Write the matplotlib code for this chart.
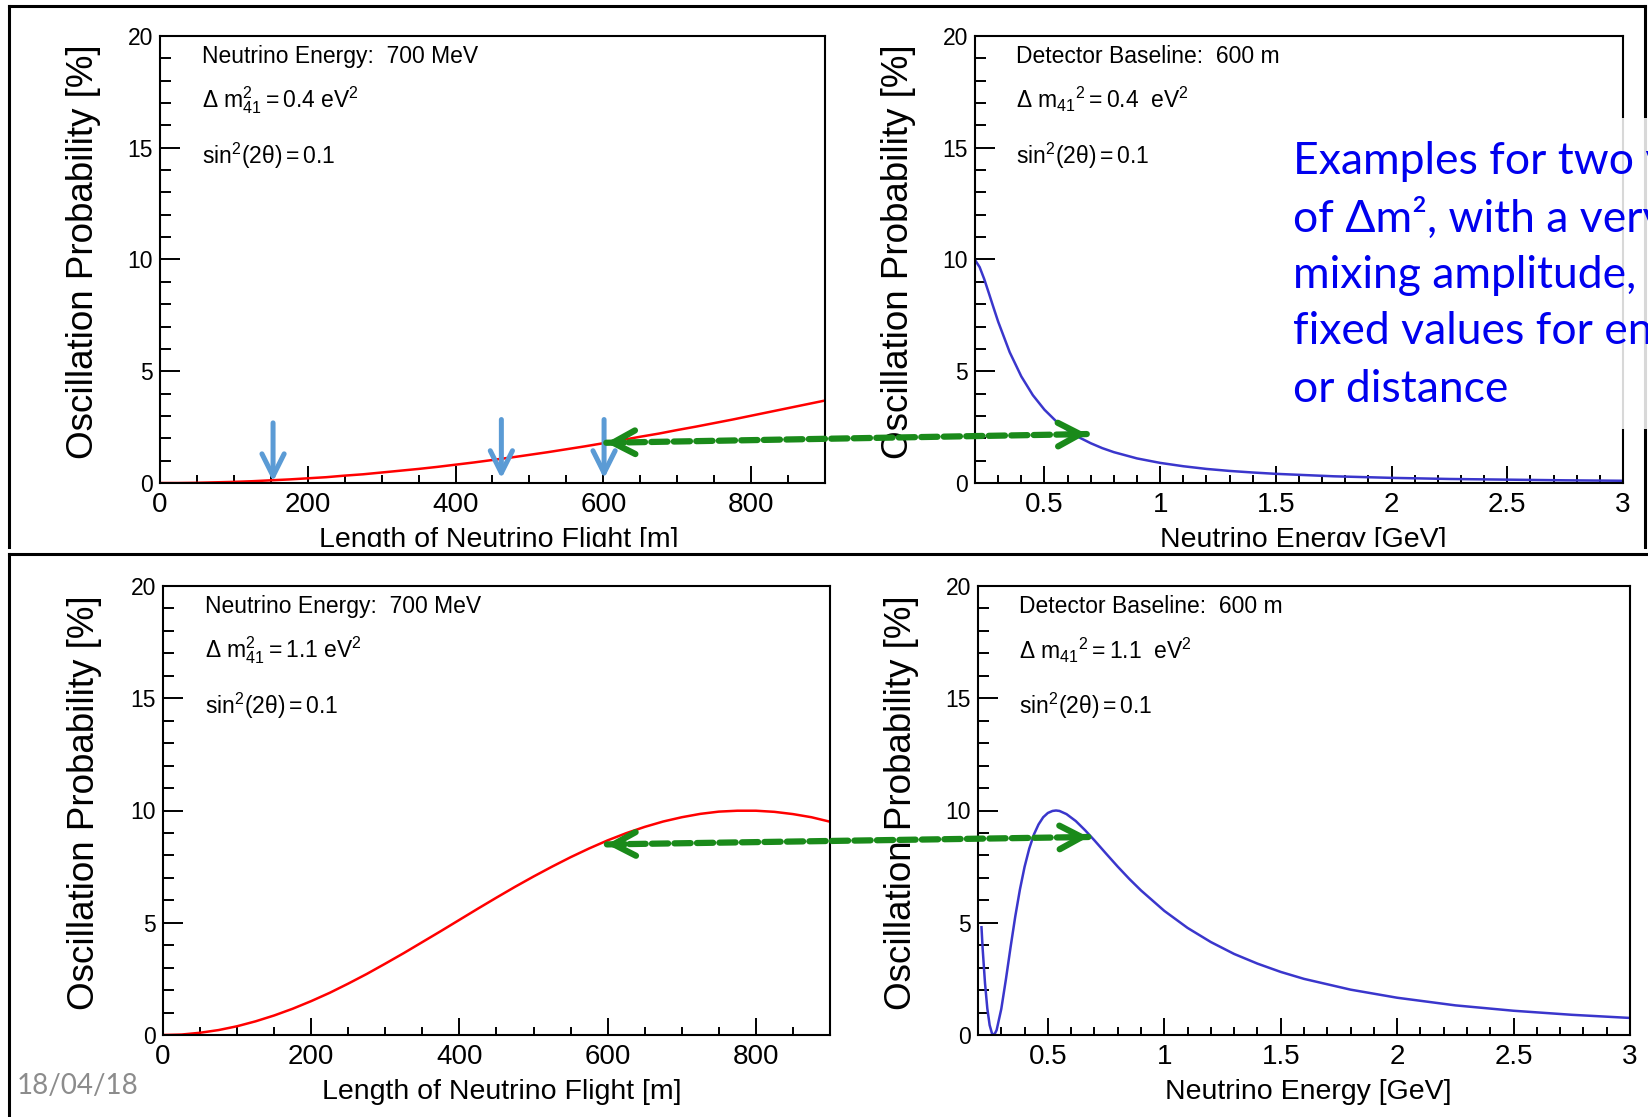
import matplotlib
matplotlib.use("Agg")
import matplotlib.pyplot as plt
from matplotlib.patches import ConnectionPatch, Rectangle
from matplotlib.lines import Line2D
from matplotlib.transforms import offset_copy
from matplotlib.ticker import MultipleLocator, FuncFormatter

# ---------------- data ----------------
flight_length_m = [0, 25, 50, 75, 100, 125, 150, 175, 200, 225, 250, 275, 300,
                   325, 350, 375, 400, 425, 450, 475, 500, 525, 550, 575, 600,
                   625, 650, 675, 700, 725, 750, 775, 800, 825, 850, 875, 900]
prob_vs_L_dm04 = [0.00, 0.00, 0.01, 0.03, 0.05, 0.08, 0.12, 0.16, 0.21, 0.26,
                  0.33, 0.39, 0.47, 0.55, 0.63, 0.72, 0.82, 0.92, 1.03, 1.14,
                  1.26, 1.38, 1.51, 1.64, 1.78, 1.92, 2.07, 2.21, 2.37, 2.52,
                  2.68, 2.84, 3.01, 3.18, 3.35, 3.52, 3.69]
prob_vs_L_dm11 = [0.00, 0.02, 0.10, 0.22, 0.39, 0.61, 0.87, 1.17, 1.51, 1.88,
                  2.29, 2.72, 3.18, 3.65, 4.14, 4.63, 5.13, 5.63, 6.12, 6.60,
                  7.06, 7.50, 7.92, 8.31, 8.67, 8.99, 9.27, 9.51, 9.70, 9.85,
                  9.95, 9.99, 9.99, 9.94, 9.84, 9.70, 9.50]

energy_top_GeV = [0.20, 0.22, 0.24, 0.26, 0.28, 0.30, 0.35, 0.40, 0.45, 0.50,
                  0.55, 0.60, 0.65, 0.70, 0.75, 0.80, 0.90, 1.00, 1.10, 1.20,
                  1.30, 1.40, 1.50, 1.75, 2.00, 2.25, 2.50, 2.75, 3.00]
prob_vs_E_dm04 = [9.98, 9.66, 9.12, 8.49, 7.85, 7.22, 5.85, 4.77, 3.93, 3.28,
                  2.77, 2.37, 2.04, 1.78, 1.56, 1.38, 1.10, 0.90, 0.75, 0.63,
                  0.54, 0.47, 0.41, 0.30, 0.23, 0.18, 0.15, 0.12, 0.10]

energy_bot_GeV = [0.215, 0.22, 0.23, 0.24, 0.25, 0.26, 0.27, 0.28, 0.30, 0.32,
                  0.34, 0.36, 0.38, 0.40, 0.42, 0.44, 0.46, 0.48, 0.50, 0.52,
                  0.535, 0.55, 0.58, 0.62, 0.66, 0.70, 0.75, 0.80, 0.85, 0.90,
                  1.00, 1.10, 1.20, 1.30, 1.40, 1.50, 1.60, 1.80, 2.00, 2.25,
                  2.50, 2.75, 3.00]
prob_vs_E_dm11 = [4.80, 3.84, 2.32, 1.18, 0.44, 0.07, 0.01, 0.22, 1.16, 2.49,
                  3.92, 5.28, 6.48, 7.49, 8.30, 8.93, 9.38, 9.70, 9.89, 9.98,
                  10.00, 9.98, 9.84, 9.53, 9.12, 8.67, 8.08, 7.50, 6.95, 6.44,
                  5.53, 4.77, 4.14, 3.61, 3.18, 2.81, 2.50, 2.02, 1.66, 1.32,
                  1.08, 0.90, 0.76]

# blue marker arrows on the top-left panel (L position, arrow top, arrow tip)
marker_L = [153, 462, 601]
marker_top = [2.69, 2.84, 2.84]
marker_tip = [0.06, 0.20, 0.20]

# green link arrows: (left panel point) <-> (right panel point)
link_top = ((604, 1.80), (0.683, 2.19))
link_bot = ((599, 8.49), (0.674, 8.82))

ylabel_text = "Oscillation Probability [%]"
xlabel_L = "Length of Neutrino Flight [m]"
xlabel_E = "Neutrino Energy [GeV]"
info_tl = ["Neutrino Energy:  700 MeV",
           r"$\Delta\ \mathrm{m}^{2}_{41} = 0.4\ \mathrm{eV}^{2}$",
           r"$\mathrm{sin}^{2}(2\mathrm{\theta}) = 0.1$"]
info_tr = ["Detector Baseline:  600 m",
           r"$\Delta\ \mathrm{m}_{41}{}^{2} = 0.4\ \ \mathrm{eV}^{2}$",
           r"$\mathrm{sin}^{2}(2\mathrm{\theta}) = 0.1$"]
info_bl = ["Neutrino Energy:  700 MeV",
           r"$\Delta\ \mathrm{m}^{2}_{41} = 1.1\ \mathrm{eV}^{2}$",
           r"$\mathrm{sin}^{2}(2\mathrm{\theta}) = 0.1$"]
info_br = ["Detector Baseline:  600 m",
           r"$\Delta\ \mathrm{m}_{41}{}^{2} = 1.1\ \ \mathrm{eV}^{2}$",
           r"$\mathrm{sin}^{2}(2\mathrm{\theta}) = 0.1$"]
note_lines = ["Examples for two v", "of \u0394m\u00b2, with a very",
              "mixing amplitude,", "fixed values for en", "or distance"]
date_text = "18/04/18"

# ---------------- style ----------------
plt.rcParams["font.family"] = ["Liberation Sans", "DejaVu Sans"]
plt.rcParams["mathtext.fontset"] = "custom"
plt.rcParams["mathtext.rm"] = "Liberation Sans"
plt.rcParams["mathtext.it"] = "Liberation Sans:italic"
plt.rcParams["mathtext.bf"] = "Liberation Sans:bold"

RED = "#ff0000"
BLUE = "#3a36cc"
GREEN = "#1a8a1a"
STEEL = "#5b9bd5"
NOTE = "#0000ee"

W, H = 1649, 1117


def rect(l, t, r, b):
    return [l / W, 1 - b / H, (r - l) / W, (b - t) / H]


fig = plt.figure(figsize=(W / 100, H / 100), dpi=100)
fig.patch.set_facecolor("white")

ax1 = fig.add_axes(rect(160, 36, 825, 483))
ax2 = fig.add_axes(rect(975, 36, 1623, 483))
ax3 = fig.add_axes(rect(163, 586, 830, 1035))
ax4 = fig.add_axes(rect(978, 586, 1630, 1035))

fmt = FuncFormatter(lambda v, p: "%g" % v)


def style(ax, xlim, xmaj, xmin, xlabel, info, ylab_x, xlab_x):
    ax.set_xlim(*xlim)
    ax.set_ylim(0, 20)
    ax.xaxis.set_major_locator(MultipleLocator(xmaj))
    ax.xaxis.set_minor_locator(MultipleLocator(xmin))
    ax.yaxis.set_major_locator(MultipleLocator(5))
    ax.yaxis.set_minor_locator(MultipleLocator(1))
    ax.xaxis.set_major_formatter(fmt)
    ax.yaxis.set_major_formatter(fmt)
    ax.tick_params(which="both", direction="in", top=False, right=False,
                   width=1.4, color="black")
    ax.tick_params(axis="x", which="major", length=12, labelsize=20, pad=6.5)
    ax.tick_params(axis="x", which="minor", length=6)
    ax.tick_params(axis="y", which="major", length=14.5, labelsize=16.5, pad=5)
    ax.tick_params(axis="y", which="minor", length=8)
    for s in ax.spines.values():
        s.set_linewidth(1.5)
        s.set_color("black")
    ax.set_ylabel(ylabel_text, fontsize=26.5)
    ax.yaxis.label.set_va("center")
    ax.yaxis.set_label_coords(ylab_x, 0.517)
    ax.set_xlabel(xlabel, fontsize=20.5)
    ax.xaxis.label.set_va("center")
    ax.xaxis.set_label_coords(xlab_x, -0.127)
    for txt, yy in zip(info, [0.955, 0.857, 0.732]):
        ax.text(0.063, yy, txt, transform=ax.transAxes, fontsize=16.5,
                ha="left", va="center")


style(ax1, (0, 900), 200, 50, xlabel_L, info_tl, -0.1143, 0.509)
style(ax2, (0.2, 3.0), 0.5, 0.1, xlabel_E, info_tr, -0.1173, 0.506)
style(ax3, (0, 900), 200, 50, xlabel_L, info_bl, -0.1184, 0.508)
style(ax4, (0.2, 3.0), 0.5, 0.1, xlabel_E, info_br, -0.1166, 0.506)

ax1.plot(flight_length_m, prob_vs_L_dm04, color=RED, lw=1.8)
ax3.plot(flight_length_m, prob_vs_L_dm11, color=RED, lw=1.8)
ax2.plot(energy_top_GeV, prob_vs_E_dm04, color=BLUE, lw=1.8)
ax4.plot(energy_bot_GeV, prob_vs_E_dm11, color=BLUE, lw=1.8)

# blue marker arrows
for x, top, tip in zip(marker_L, marker_top, marker_tip):
    ax1.annotate("", xy=(x, tip), xytext=(x, top), annotation_clip=False,
                 arrowprops=dict(arrowstyle="->,head_length=16,head_width=8",
                                 mutation_scale=1, lw=3.6, color=STEEL,
                                 shrinkA=0, shrinkB=0), zorder=5)

# ---------------- slide frame ----------------
def fline(xs, ys, lw=2.2, color="black", z=2):
    fig.add_artist(Line2D([x / W for x in xs], [1 - y / H for y in ys],
                          transform=fig.transFigure, color=color, lw=lw,
                          zorder=z, solid_capstyle="projecting"))


fline([9, 1645], [6, 6])
fline([9, 9], [6, 547])
fline([1645, 1645], [6, 547])
fline([9, W + 5], [554, 554])
fline([9, 9], [554, H + 5])

# clip the top row x-axis titles at the box edge
fig.add_artist(Rectangle((0, 1 - 552.5 / H), 1, 5.5 / H, transform=fig.transFigure,
                         facecolor="white", edgecolor="none", zorder=1.5))

# translucent box behind the note
fig.add_artist(Rectangle((1280 / W, 1 - 429 / H), (W - 1280) / W, (429 - 118) / H,
                         transform=fig.transFigure, facecolor="white",
                         edgecolor="none", alpha=0.85, zorder=3))

for txt, yy in zip(note_lines, [161, 218, 276, 332, 389]):
    fig.text(1293 / W, 1 - yy / H, txt, color=NOTE, fontsize=32,
             family=["Lato", "DejaVu Sans"], ha="left", va="center", zorder=4)

fig.text(17 / W, 1 - 1086 / H, date_text, color="#8c8c8c", fontsize=20,
         family=["Lato", "DejaVu Sans"], ha="left", va="center", zorder=4)

# ---------------- green link arrows ----------------
def link(axL, axR, pL, pR, slope_px):
    shaft = ConnectionPatch(xyA=pL, coordsA=axL.transData, xyB=pR,
                            coordsB=axR.transData, arrowstyle="-",
                            lw=4.5, color=GREEN, linestyle=(0, (2.6, 1.0)),
                            zorder=6)
    fig.add_artist(shaft)
    d = 18
    headL = ConnectionPatch(xyA=pL, coordsA=offset_copy(axL.transData, x=d, y=d * slope_px, units="dots"),
                            xyB=pL, coordsB=axL.transData,
                            arrowstyle="->,head_length=16,head_width=8.5",
                            mutation_scale=1, lw=4.5, color=GREEN, zorder=6)
    fig.add_artist(headL)
    headR = ConnectionPatch(xyA=pR, coordsA=offset_copy(axR.transData, x=-d, y=-d * slope_px, units="dots"),
                            xyB=pR, coordsB=axR.transData,
                            arrowstyle="->,head_length=16,head_width=8.5",
                            mutation_scale=1, lw=4.5, color=GREEN, zorder=6)
    fig.add_artist(headR)


link(ax1, ax2, link_top[0], link_top[1], 0.018)
link(ax3, ax4, link_bot[0], link_bot[1], 0.0156)

fig.savefig("out.png", dpi=100)
